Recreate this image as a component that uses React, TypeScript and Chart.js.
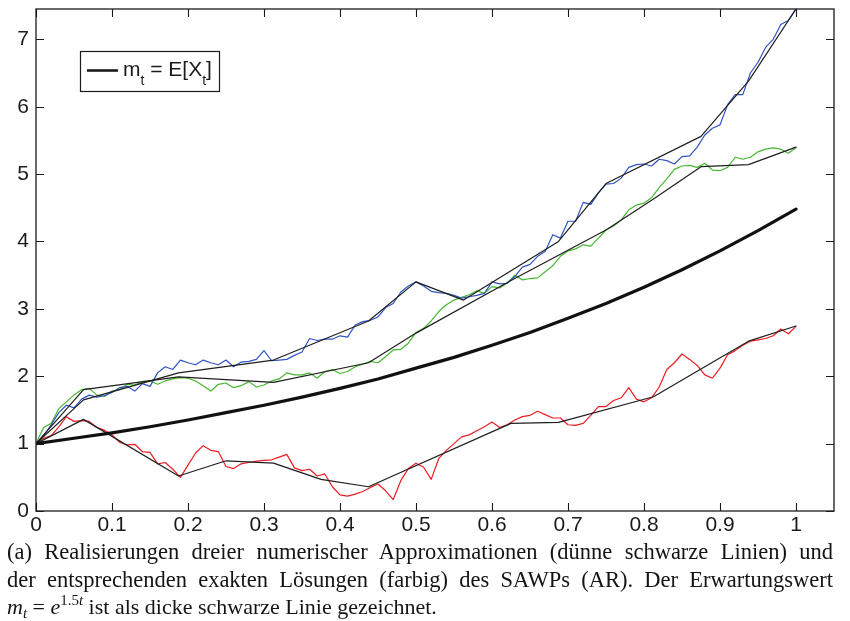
import React, { useEffect, useRef } from "react";
import { Chart, registerables } from "chart.js";

Chart.register(...registerables);

// Time grid of the exact solutions
const tFine = [
  0, 0.01, 0.02, 0.03, 0.04, 0.05, 0.06, 0.07, 0.08, 0.09,
  0.1, 0.11, 0.12, 0.13, 0.14, 0.15, 0.16, 0.17, 0.18, 0.19,
  0.2, 0.21, 0.22, 0.23, 0.24, 0.25, 0.26, 0.27, 0.28, 0.29,
  0.3, 0.31, 0.32, 0.33, 0.34, 0.35, 0.36, 0.37, 0.38, 0.39,
  0.4, 0.41, 0.42, 0.43, 0.44, 0.45, 0.46, 0.47, 0.48, 0.49,
  0.5, 0.51, 0.52, 0.53, 0.54, 0.55, 0.56, 0.57, 0.58, 0.59,
  0.6, 0.61, 0.62, 0.63, 0.64, 0.65, 0.66, 0.67, 0.68, 0.69,
  0.7, 0.71, 0.72, 0.73, 0.74, 0.75, 0.76, 0.77, 0.78, 0.79,
  0.8, 0.81, 0.82, 0.83, 0.84, 0.85, 0.86, 0.87, 0.88, 0.89,
  0.9, 0.91, 0.92, 0.93, 0.94, 0.95, 0.96, 0.97, 0.98, 0.99,
  1,
];

// Exact solutions (coloured paths)
const exactBlue = [
  1.0, 1.12, 1.28, 1.46, 1.57, 1.53, 1.66, 1.72, 1.69, 1.71,
  1.76, 1.83, 1.85, 1.78, 1.89, 1.85, 2.05, 2.14, 2.1, 2.24,
  2.2, 2.17, 2.24, 2.2, 2.17, 2.24, 2.14, 2.21, 2.22, 2.25,
  2.38, 2.23, 2.24, 2.25, 2.31, 2.36, 2.56, 2.53, 2.55, 2.55,
  2.6, 2.58, 2.76, 2.81, 2.83, 2.88, 3.02, 3.08, 3.25, 3.34,
  3.4, 3.34, 3.26, 3.24, 3.23, 3.2, 3.16, 3.18, 3.2, 3.23,
  3.4, 3.37, 3.38, 3.48, 3.62, 3.66, 3.78, 3.85, 4.1, 4.05,
  4.3, 4.3, 4.58, 4.55, 4.72, 4.85, 4.86, 4.94, 5.1, 5.14,
  5.15, 5.12, 5.22, 5.2, 5.15, 5.26, 5.27, 5.4, 5.58, 5.68,
  5.73, 6.03, 6.18, 6.18, 6.5, 6.66, 6.88, 7.0, 7.22, 7.28,
  7.45,
];

const exactGreen = [
  1.0, 1.24, 1.3, 1.52, 1.62, 1.72, 1.8, 1.82, 1.72, 1.7,
  1.78, 1.8, 1.88, 1.87, 1.92, 1.93, 1.88, 1.93, 1.96, 1.98,
  1.97, 1.93, 1.86, 1.78, 1.88, 1.9, 1.83, 1.86, 1.92, 1.84,
  1.87, 1.93, 1.96, 2.05, 2.02, 2.02, 2.05, 1.97, 2.07, 2.1,
  2.04, 2.07, 2.14, 2.18, 2.22, 2.2, 2.29, 2.39, 2.4, 2.49,
  2.65, 2.71, 2.82, 2.96, 3.06, 3.13, 3.17, 3.21, 3.27, 3.23,
  3.33, 3.31, 3.38, 3.5, 3.43, 3.45, 3.46, 3.55, 3.64, 3.78,
  3.86, 3.89, 3.95, 3.93, 4.05, 4.17, 4.23, 4.32, 4.47, 4.54,
  4.57, 4.65, 4.8, 4.93, 5.07, 5.12, 5.13, 5.1, 5.16, 5.06,
  5.05, 5.1, 5.25, 5.22, 5.25, 5.33, 5.37, 5.39, 5.37, 5.31,
  5.39,
];

const exactRed = [
  1.0, 1.08, 1.12, 1.25, 1.4, 1.33, 1.34, 1.33, 1.24, 1.2,
  1.13, 1.02, 0.98, 0.99, 0.88, 0.87, 0.7, 0.72, 0.62, 0.5,
  0.68, 0.86, 0.97, 0.9, 0.88, 0.66, 0.63, 0.7, 0.72, 0.74,
  0.75, 0.76, 0.8, 0.84, 0.64, 0.6, 0.62, 0.52, 0.55, 0.36,
  0.24, 0.22, 0.25, 0.29, 0.35, 0.4, 0.3, 0.17, 0.45, 0.63,
  0.71, 0.65, 0.47, 0.78, 0.9, 1.0, 1.1, 1.13, 1.19, 1.25,
  1.32, 1.24, 1.28, 1.35, 1.4, 1.42, 1.48, 1.43, 1.38, 1.38,
  1.28, 1.27, 1.3, 1.42, 1.55, 1.55, 1.64, 1.68, 1.83, 1.66,
  1.62, 1.68, 1.84, 2.1, 2.2, 2.33, 2.25, 2.16, 2.02, 1.97,
  2.12, 2.32, 2.38, 2.46, 2.52, 2.54, 2.56, 2.6, 2.7, 2.63,
  2.74,
];

// Numerical approximations (thin black polygons)
const tBlueApprox = [0, 0.0625, 0.1875, 0.3125, 0.4375, 0.5, 0.5625, 0.6875, 0.75, 0.875, 0.9375, 1];
const blueApprox = [1.0, 1.65, 2.05, 2.24, 2.82, 3.4, 3.13, 4.0, 4.86, 5.56, 6.38, 7.45];

const tGreenApprox = [0, 0.0625, 0.1875, 0.3125, 0.4375, 0.5, 0.625, 0.75, 0.8125, 0.875, 0.9375, 1];
const greenApprox = [1.0, 1.8, 1.99, 1.91, 2.2, 2.64, 3.42, 4.17, 4.63, 5.11, 5.14, 5.4];

const tRedApprox = [0, 0.0625, 0.1875, 0.25, 0.3125, 0.375, 0.4375, 0.625, 0.6875, 0.8125, 0.9375, 1];
const redApprox = [1.0, 1.36, 0.52, 0.745, 0.71, 0.47, 0.36, 1.3, 1.315, 1.695, 2.52, 2.745];

// Expected value m_t = E[X_t]
const tMean = [
  0, 0.05, 0.1, 0.15, 0.2, 0.25, 0.3, 0.35, 0.4, 0.45, 0.5,
  0.55, 0.6, 0.65, 0.7, 0.75, 0.8, 0.85, 0.9, 0.95, 1,
];
const meanValues = [
  1.0, 1.08, 1.16, 1.25, 1.35, 1.46, 1.57, 1.69, 1.82, 1.96, 2.12,
  2.28, 2.46, 2.65, 2.86, 3.08, 3.32, 3.58, 3.86, 4.16, 4.48,
];

const xTicks = [0, 0.1, 0.2, 0.3, 0.4, 0.5, 0.6, 0.7, 0.8, 0.9, 1];
const yTicks = [0, 1, 2, 3, 4, 5, 6, 7];

const pairs = (xs: number[], ys: number[]) => xs.map((x, i) => ({ x, y: ys[i] }));

const AXIS_FONT = '"Liberation Sans", Arial, Helvetica, sans-serif';
const INK = "#1b1b1b";

// Box around the axes with inward tick marks on all four sides
const framePlugin = {
  id: "frameTicks",
  afterDraw(chart: any) {
    const { ctx, chartArea: a, scales } = chart;
    const len = 8;
    ctx.save();
    ctx.strokeStyle = INK;
    ctx.lineWidth = 1.3;
    ctx.strokeRect(a.left, a.top, a.right - a.left, a.bottom - a.top);
    ctx.lineWidth = 1.1;
    ctx.beginPath();
    xTicks.forEach((v) => {
      const px = Math.round(scales.x.getPixelForValue(v)) + 0.5;
      ctx.moveTo(px, a.bottom);
      ctx.lineTo(px, a.bottom - len);
      ctx.moveTo(px, a.top);
      ctx.lineTo(px, a.top + len);
    });
    yTicks.forEach((v) => {
      const py = Math.round(scales.y.getPixelForValue(v)) + 0.5;
      ctx.moveTo(a.left, py);
      ctx.lineTo(a.left + len, py);
      ctx.moveTo(a.right, py);
      ctx.lineTo(a.right - len, py);
    });
    ctx.stroke();
    ctx.restore();
  },
};

// Legend box with the subscripted label m_t = E[X_t]
const legendPlugin = {
  id: "meanLegend",
  afterDraw(chart: any) {
    const { ctx } = chart;
    const bx = 80.5, by = 51.5, bw = 139, bh = 40;
    ctx.save();
    ctx.fillStyle = "#ffffff";
    ctx.fillRect(bx, by, bw, bh);
    ctx.strokeStyle = INK;
    ctx.lineWidth = 1.2;
    ctx.strokeRect(bx, by, bw, bh);
    ctx.lineWidth = 2.6;
    ctx.beginPath();
    ctx.moveTo(87, 70.5);
    ctx.lineTo(118, 70.5);
    ctx.stroke();

    const base = 76;
    const big = `21px ${AXIS_FONT}`;
    const small = `14px ${AXIS_FONT}`;
    ctx.fillStyle = INK;
    ctx.textBaseline = "alphabetic";
    ctx.textAlign = "left";
    let x = 123;
    const put = (txt: string, font: string, dy: number) => {
      ctx.font = font;
      ctx.fillText(txt, x, base + dy);
      x += ctx.measureText(txt).width;
    };
    put("m", big, 0);
    put("t", small, 9);
    put(" = E[X", big, 0);
    put("t", small, 9);
    put("]", big, 0);
    ctx.restore();
  },
};

function ChartCanvas() {
  const ref = useRef<HTMLCanvasElement | null>(null);

  useEffect(() => {
    if (!ref.current) return;
    const thin = { borderColor: "#1e1e1e", borderWidth: 1.2 };
    const chart = new Chart(ref.current, {
      type: "line",
      data: {
        datasets: [
          { label: "mean", data: pairs(tMean, meanValues), borderColor: "#111111", borderWidth: 3.2 },
          { label: "approxBlue", data: pairs(tBlueApprox, blueApprox), ...thin },
          { label: "approxGreen", data: pairs(tGreenApprox, greenApprox), ...thin },
          { label: "approxRed", data: pairs(tRedApprox, redApprox), ...thin },
          { label: "blue", data: pairs(tFine, exactBlue), borderColor: "#2f54c2", borderWidth: 1.2 },
          { label: "green", data: pairs(tFine, exactGreen), borderColor: "#46b830", borderWidth: 1.2 },
          { label: "red", data: pairs(tFine, exactRed), borderColor: "#ee1c23", borderWidth: 1.2 },
        ],
      },
      options: {
        animation: false,
        responsive: false,
        maintainAspectRatio: false,
        layout: { padding: { left: 0, right: 16, top: 9, bottom: 0 } },
        elements: {
          point: { radius: 0 },
          line: { tension: 0, fill: false, borderCapStyle: "round", borderJoinStyle: "round" },
        },
        plugins: { legend: { display: false }, tooltip: { enabled: false } },
        scales: {
          x: {
            type: "linear",
            min: 0,
            max: 1.05,
            grid: { display: false, drawTicks: false },
            border: { display: false },
            afterBuildTicks: (s: any) => {
              s.ticks = xTicks.map((v) => ({ value: v }));
            },
            afterFit: (s: any) => {
              s.height = 29;
              s.paddingLeft = 0;
              s.paddingRight = 0;
            },
            ticks: {
              autoSkip: false,
              maxRotation: 0,
              padding: 2,
              color: INK,
              font: { family: AXIS_FONT, size: 21 },
              callback: (v: any) => (v === 0 ? "0" : v === 1 ? "1" : Number(v).toFixed(1)),
            },
          },
          y: {
            type: "linear",
            min: 0,
            max: 7.45,
            grid: { display: false, drawTicks: false },
            border: { display: false },
            afterBuildTicks: (s: any) => {
              s.ticks = yTicks.map((v) => ({ value: v }));
            },
            afterFit: (s: any) => {
              s.width = 36;
              s.paddingTop = 0;
              s.paddingBottom = 0;
            },
            ticks: {
              autoSkip: false,
              padding: 7,
              color: INK,
              font: { family: AXIS_FONT, size: 21 },
              callback: (v: any) => String(v),
            },
          },
        },
      },
      plugins: [framePlugin, legendPlugin],
    });
    return () => chart.destroy();
  }, []);

  return <canvas ref={ref} width={850} height={540} style={{ display: "block", width: 850, height: 540 }} />;
}

const supStyle: React.CSSProperties = { fontSize: "0.68em", verticalAlign: "0.6em", lineHeight: 0 };
const subStyle: React.CSSProperties = { fontSize: "0.68em", verticalAlign: "-0.3em", lineHeight: 0 };
const justified: React.CSSProperties = { textAlign: "justify", textAlignLast: "justify", fontSize: 22.5 };

export default function App() {
  return (
    <div style={{ position: "absolute", left: 0, top: 0, width: 850, height: 621, background: "#fff", overflow: "hidden" }}>
      <ChartCanvas />
      <div
        style={{
          position: "absolute",
          left: 7,
          top: 538,
          width: 826,
          fontFamily: '"Liberation Serif", "Times New Roman", serif',
          fontSize: 22,
          lineHeight: "27.7px",
          color: "#141414",
        }}
      >
        <div style={justified}>
          (a) Realisierungen dreier numerischer Approximationen (dünne schwarze Linien) und
        </div>
        <div style={justified}>
          der entsprechenden exakten Lösungen (farbig) des SAWPs (AR). Der Erwartungswert
        </div>
        <div>
          <i>m</i>
          <sub style={subStyle}>
            <i>t</i>
          </sub>{" "}
          = <i>e</i>
          <sup style={supStyle}>
            1.5<i>t</i>
          </sup>{" "}
          ist als dicke schwarze Linie gezeichnet.
        </div>
      </div>
    </div>
  );
}
